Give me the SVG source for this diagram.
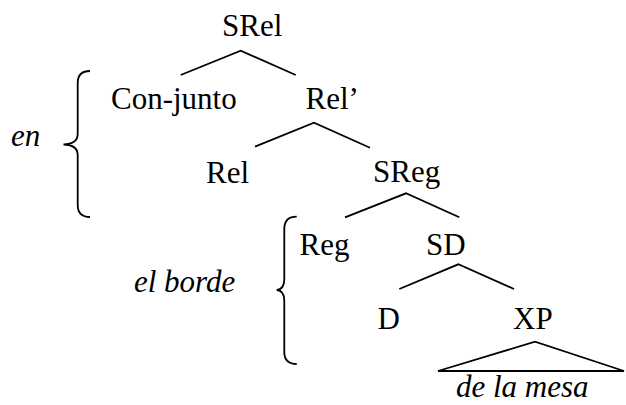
<svg xmlns="http://www.w3.org/2000/svg" width="626" height="405" viewBox="0 0 626 405">
<style>
.t{font-family:"Liberation Serif","DejaVu Serif",serif;font-size:31px;fill:#000}
.i{font-style:italic}
.e{stroke:#000;stroke-width:1.8;fill:none;stroke-linecap:butt}
</style>
<rect width="626" height="405" fill="#fff"/>
<g id="connectors">
<polyline class="e" points="180.7,75 240.7,50.7 295.7,75"/>
<polyline class="e" points="255,146.7 314,122.7 370,147.7"/>
<polyline class="e" points="345,217.3 406,193.3 459.3,217.3"/>
<polyline class="e" points="399.3,289 458.3,264.3 514,289"/>
<polygon class="e" points="438,371 535,341.7 624,371"/>
</g>
<g id="brace-en"><path class="e" d="M90,71 Q77.7,71 77.7,83 L77.7,134 Q77.7,144 63.5,144.5 Q77.7,145 77.7,155 L77.7,205 Q77.7,217 90,217"/></g>
<g id="brace-elborde"><path class="e" d="M296.7,216.7 Q284.3,216.7 284.3,229 L284.3,279 Q284.3,289.5 276.7,290 Q284.3,290.5 284.3,301 L284.3,352 Q284.3,364 296.7,364"/></g>
<g id="n-SRel"><text class="t" x="222" y="36">SRel</text></g>
<g id="n-Conjunto"><text class="t" x="111" y="109">Con-junto</text></g>
<g id="n-RelBar"><text class="t" x="305.5" y="109">Rel’</text></g>
<g id="n-Rel"><text class="t" x="206" y="182.5">Rel</text></g>
<g id="n-SReg"><text class="t" x="373" y="182">SReg</text></g>
<g id="n-Reg"><text class="t" x="299.5" y="255">Reg</text></g>
<g id="n-SD"><text class="t" x="426" y="255">SD</text></g>
<g id="n-D"><text class="t" x="377.5" y="329">D</text></g>
<g id="n-XP"><text class="t" x="513" y="329">XP</text></g>
<g id="n-delamesa"><text class="t i" x="456" y="397">de la mesa</text></g>
<g id="l-en"><text class="t i" x="11" y="145.5">en</text></g>
<g id="l-elborde"><text class="t i" x="134" y="291.5">el borde</text></g>
</svg>
